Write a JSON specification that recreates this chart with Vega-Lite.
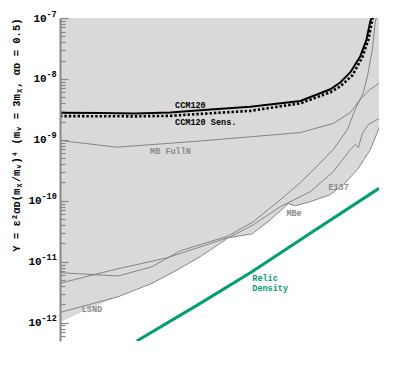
{
  "$schema": "https://vega.github.io/schema/vega-lite/v6.json",
  "width": 319,
  "height": 323,
  "autosize": {"type": "none"},
  "padding": {"left": 60, "top": 18, "right": 20, "bottom": 38},
  "background": "white",
  "config": {"view": {"stroke": null}},
  "datasets": {
    "fill": [
      {"x": 1, "y": 1.02e-12}, {"x": 1.3, "y": 1.51e-12}, {"x": 2.0, "y": 2.66e-12},
      {"x": 3.0, "y": 4.43e-12}, {"x": 4.05, "y": 7.33e-12}, {"x": 5.33, "y": 1.21e-11},
      {"x": 7.44, "y": 2.47e-11}, {"x": 9.92, "y": 2.87e-11}, {"x": 12.3, "y": 4.89e-11},
      {"x": 15.25, "y": 8.96e-11}, {"x": 16.6, "y": 8.3e-11}, {"x": 19.8, "y": 9.66e-11},
      {"x": 25.2, "y": 1.26e-10}, {"x": 30.1, "y": 1.99e-10}, {"x": 34.8, "y": 3.25e-10},
      {"x": 40.6, "y": 6.95e-10}, {"x": 44.7, "y": 1.48e-9}, {"x": 45, "y": 1.6e-9}
    ],
    "thin": [
      {"s": "A", "x": 1, "y": 6.61e-12}, {"s": "A", "x": 2.0, "y": 5.83e-12}, {"s": "A", "x": 3.0, "y": 8.3e-12},
      {"s": "A", "x": 4.2, "y": 1.51e-11}, {"s": "A", "x": 7.36, "y": 2.61e-11}, {"s": "A", "x": 10.04, "y": 4.53e-11},
      {"s": "A", "x": 13.86, "y": 1.04e-10}, {"s": "A", "x": 17.6, "y": 1.99e-10}, {"s": "A", "x": 20.6, "y": 3.25e-10},
      {"s": "A", "x": 26.1, "y": 6.95e-10}, {"s": "A", "x": 30.9, "y": 1.48e-9}, {"s": "A", "x": 33.9, "y": 3.17e-9},
      {"s": "A", "x": 37.4, "y": 6.04e-9}, {"s": "A", "x": 39.2, "y": 1.11e-8}, {"s": "A", "x": 41.6, "y": 3.08e-8},
      {"s": "A", "x": 43.1, "y": 8.9e-8}, {"s": "A", "x": 43.6, "y": 1e-7},
      {"s": "B", "x": 1, "y": 4.43e-12}, {"s": "B", "x": 1.88, "y": 7.33e-12}, {"s": "B", "x": 3.59, "y": 1.16e-11},
      {"s": "B", "x": 5.33, "y": 1.75e-11}, {"s": "B", "x": 7.62, "y": 2.56e-11}, {"s": "B", "x": 10.04, "y": 4.04e-11},
      {"s": "B", "x": 13.86, "y": 8.0e-11}, {"s": "B", "x": 19.8, "y": 1.41e-10}, {"s": "B", "x": 26.1, "y": 3.01e-10},
      {"s": "B", "x": 32.0, "y": 6.95e-10}, {"s": "B", "x": 33.9, "y": 8.4e-10}, {"s": "B", "x": 35.2, "y": 7.5e-10},
      {"s": "B", "x": 36.9, "y": 1.27e-9}, {"s": "B", "x": 39.7, "y": 1.79e-9}, {"s": "B", "x": 44.2, "y": 2.17e-9},
      {"s": "B", "x": 45, "y": 2.2e-9},
      {"s": "LSND", "x": 1, "y": 1.47e-12}, {"s": "LSND", "x": 2.0, "y": 2.66e-12}, {"s": "LSND", "x": 3.0, "y": 4.43e-12},
      {"s": "LSND", "x": 4.05, "y": 7.33e-12}, {"s": "LSND", "x": 5.33, "y": 1.21e-11}, {"s": "LSND", "x": 7.44, "y": 2.47e-11},
      {"s": "MBe", "x": 7.44, "y": 2.47e-11}, {"s": "MBe", "x": 9.92, "y": 2.87e-11}, {"s": "MBe", "x": 12.3, "y": 4.89e-11},
      {"s": "MBe", "x": 15.25, "y": 8.96e-11}, {"s": "MBe", "x": 16.6, "y": 8.3e-11}, {"s": "MBe", "x": 19.8, "y": 9.66e-11},
      {"s": "MBe", "x": 25.2, "y": 1.26e-10}, {"s": "MBe", "x": 30.1, "y": 1.99e-10}, {"s": "MBe", "x": 34.8, "y": 3.25e-10},
      {"s": "MBe", "x": 40.6, "y": 6.95e-10}, {"s": "MBe", "x": 44.7, "y": 1.48e-9}, {"s": "MBe", "x": 45, "y": 1.6e-9},
      {"s": "MBFullN", "x": 1, "y": 9.77e-10}, {"s": "MBFullN", "x": 1.976, "y": 7.58e-10}, {"s": "MBFullN", "x": 5.33, "y": 9.59e-10},
      {"s": "MBFullN", "x": 10.28, "y": 1.14e-9}, {"s": "MBFullN", "x": 17.6, "y": 1.32e-9}, {"s": "MBFullN", "x": 26.1, "y": 1.86e-9},
      {"s": "MBFullN", "x": 32.0, "y": 2.83e-9}, {"s": "MBFullN", "x": 36.0, "y": 4.63e-9}, {"s": "MBFullN", "x": 40.6, "y": 6.77e-9},
      {"s": "MBFullN", "x": 45, "y": 8.49e-9}
    ],
    "ccm": [
      {"x": 1, "y": 2.795e-9}, {"x": 1.613, "y": 2.77e-9}, {"x": 2.45, "y": 2.72e-9}, {"x": 3.72, "y": 2.8e-9},
      {"x": 5.33, "y": 3.05e-9}, {"x": 9.68, "y": 3.51e-9}, {"x": 17.6, "y": 4.34e-9}, {"x": 25.2, "y": 6.77e-9},
      {"x": 28.4, "y": 8.83e-9}, {"x": 32.0, "y": 1.29e-8}, {"x": 36.0, "y": 2.36e-8}, {"x": 38.7, "y": 4.35e-8},
      {"x": 40.6, "y": 8.9e-8}, {"x": 41.3, "y": 1e-7}
    ],
    "sens": [
      {"x": 1, "y": 2.457e-9}, {"x": 2.45, "y": 2.43e-9}, {"x": 3.72, "y": 2.48e-9}, {"x": 5.33, "y": 2.67e-9},
      {"x": 9.68, "y": 2.99e-9}, {"x": 17.6, "y": 3.98e-9}, {"x": 25.2, "y": 6.04e-9}, {"x": 28.4, "y": 7.59e-9},
      {"x": 32.8, "y": 1.15e-8}, {"x": 36.9, "y": 2.28e-8}, {"x": 39.7, "y": 4.51e-8}, {"x": 41.6, "y": 9.6e-8},
      {"x": 42.0, "y": 1e-7}
    ],
    "relic": [
      {"x": 2.5, "y": 5e-13}, {"x": 5.33, "y": 2.07e-12}, {"x": 9.88, "y": 6.87e-12}, {"x": 20, "y": 2.99e-11}, {"x": 45, "y": 1.6e-10}
    ],
    "blackLabels": [
      {"x": 3.95, "y": 3.69e-9, "t": "CCM120"},
      {"x": 3.95, "y": 1.96e-9, "t": "CCM120 Sens."}
    ],
    "grayLabels": [
      {"x": 2.93, "y": 6.68e-10, "t": "MB FullN"},
      {"x": 1.296, "y": 1.65e-12, "t": "LSND"},
      {"x": 14.9, "y": 6.25e-11, "t": "MBe"},
      {"x": 24.6, "y": 1.71e-10, "t": "E137"}
    ],
    "greenLabels": [
      {"x": 9.92, "y": 5.35e-12, "t": "Relic"},
      {"x": 9.92, "y": 3.74e-12, "t": "Density"}
    ]
  },
  "resolve": {"axis": {"y": "independent"}},
  "layer": [
    {
      "encoding": {
        "x": {
          "field": "x", "type": "quantitative",
          "scale": {"type": "log", "domain": [1, 45], "nice": false},
          "axis": {
            "zindex": 1,
            "title": "mᵪ (MeV/c²)",
            "titleFont": "Liberation Mono", "titleFontWeight": "bold", "titleFontSize": 10, "titleColor": "black",
            "titleAnchor": "end", "titlePadding": 6,
            "values": [2, 3, 4, 5, 6, 7, 8, 9, 10, 20, 30, 40],
            "labelExpr": "datum.value == 10 ? '10' : ''",
            "labelFont": "Liberation Mono", "labelFontWeight": "bold", "labelFontSize": 11, "labelColor": "black",
            "labelOverlap": false, "labelFlush": false, "labelBound": false, "labelPadding": 17,
            "tickSize": {"condition": {"test": "datum.value == 10", "value": -8}, "value": -5},
            "tickColor": "#888888", "tickWidth": 1.2,
            "domainColor": "#888888", "domainWidth": 2, "grid": false
          }
        },
        "y": {
          "field": "y", "type": "quantitative",
          "scale": {"type": "log", "domain": [5e-13, 1e-7], "nice": false},
          "axis": {
            "orient": "left", "zindex": 1,
            "title": "Y = ε²αᴅ(mᵪ/mᵥ)⁴ (mᵥ = 3mᵪ, αᴅ = 0.5)",
            "titleFont": "Liberation Mono", "titleFontWeight": "bold", "titleFontSize": 10.5, "titleColor": "black",
            "titleAnchor": "end", "titlePadding": 4,
            "values": [6e-13, 7e-13, 8e-13, 9e-13, 1e-12, 2e-12, 3e-12, 4e-12, 5e-12, 6e-12, 7e-12, 8e-12, 9e-12,
                       1e-11, 2e-11, 3e-11, 4e-11, 5e-11, 6e-11, 7e-11, 8e-11, 9e-11,
                       1e-10, 2e-10, 3e-10, 4e-10, 5e-10, 6e-10, 7e-10, 8e-10, 9e-10,
                       1e-9, 2e-9, 3e-9, 4e-9, 5e-9, 6e-9, 7e-9, 8e-9, 9e-9,
                       1e-8, 2e-8, 3e-8, 4e-8, 5e-8, 6e-8, 7e-8, 8e-8, 9e-8, 1e-7],
            "labelExpr": "abs(log(datum.value)/LN10 - round(log(datum.value)/LN10)) < 0.01 ? '10' : ''",
            "labelFont": "Liberation Mono", "labelFontWeight": "bold", "labelFontSize": 11, "labelColor": "black",
            "labelOverlap": false, "labelFlush": false, "labelBound": false,
            "labelAlign": "left",
            "labelPadding": {"condition": {"test": "datum.value < 5e-10", "value": 40}, "value": 35},
            "tickSize": {"condition": {"test": "abs(log(datum.value)/LN10 - round(log(datum.value)/LN10)) < 0.01", "value": -8}, "value": -5},
            "tickColor": "#888888", "tickWidth": 1.2,
            "domainColor": "#888888", "domainWidth": 2, "grid": false
          }
        }
      },
      "layer": [
        {
          "data": {"name": "fill"},
          "mark": {"type": "area", "color": "#d9d9d9", "clip": true},
          "encoding": {"y2": {"datum": 1e-7}}
        },
        {
          "data": {"name": "thin"},
          "mark": {"type": "line", "color": "#7a7a7a", "strokeWidth": 0.9, "clip": true},
          "encoding": {"detail": {"field": "s"}}
        },
        {
          "data": {"name": "ccm"},
          "mark": {"type": "line", "color": "black", "strokeWidth": 2, "clip": true},
          "encoding": {}
        },
        {
          "data": {"name": "sens"},
          "mark": {"type": "line", "color": "black", "strokeWidth": 2.6, "strokeDash": [2.4, 2], "clip": true},
          "encoding": {}
        },
        {
          "data": {"name": "relic"},
          "mark": {"type": "line", "color": "#009e73", "strokeWidth": 3, "clip": true},
          "encoding": {}
        },
        {
          "data": {"name": "blackLabels"},
          "mark": {"type": "text", "align": "left", "baseline": "middle", "font": "Liberation Mono", "fontWeight": "bold", "fontSize": 8.5, "color": "black"},
          "encoding": {"text": {"field": "t"}}
        },
        {
          "data": {"name": "grayLabels"},
          "mark": {"type": "text", "align": "left", "baseline": "middle", "font": "Liberation Mono", "fontWeight": "bold", "fontSize": 8.5, "color": "#8a8a8a"},
          "encoding": {"text": {"field": "t"}}
        },
        {
          "data": {"name": "greenLabels"},
          "mark": {"type": "text", "align": "left", "baseline": "middle", "font": "Liberation Mono", "fontWeight": "bold", "fontSize": 8.5, "color": "#009e73"},
          "encoding": {"text": {"field": "t"}}
        }
      ]
    },
    {
      "mark": {"type": "rule", "color": "#999999", "strokeWidth": 1.5},
      "encoding": {
        "x": {"datum": 45, "type": "quantitative", "scale": {"type": "log", "domain": [1, 45], "nice": false}, "axis": null},
        "y": {
          "datum": 5e-13, "type": "quantitative",
          "scale": {"type": "log", "domain": [5e-13, 1e-7], "nice": false},
          "axis": {
            "orient": "left", "title": null, "domain": false, "ticks": false, "tickSize": 0, "grid": false, "zindex": 1,
            "values": [1e-12, 1e-11, 1e-10, 1e-9, 1e-8, 1e-7],
            "labelExpr": "'-' + (-round(log(datum.value)/LN10))",
            "labelFont": "Liberation Mono", "labelFontWeight": "bold", "labelFontSize": 8.5, "labelColor": "black",
            "labelOverlap": false, "labelFlush": false, "labelBound": false,
            "labelAlign": "left",
            "labelPadding": {"condition": {"test": "datum.value < 5e-10", "value": 19}, "value": 14},
            "labelOffset": -5
          }
        },
        "y2": {"datum": 1e-7}
      }
    }
  ]
}
